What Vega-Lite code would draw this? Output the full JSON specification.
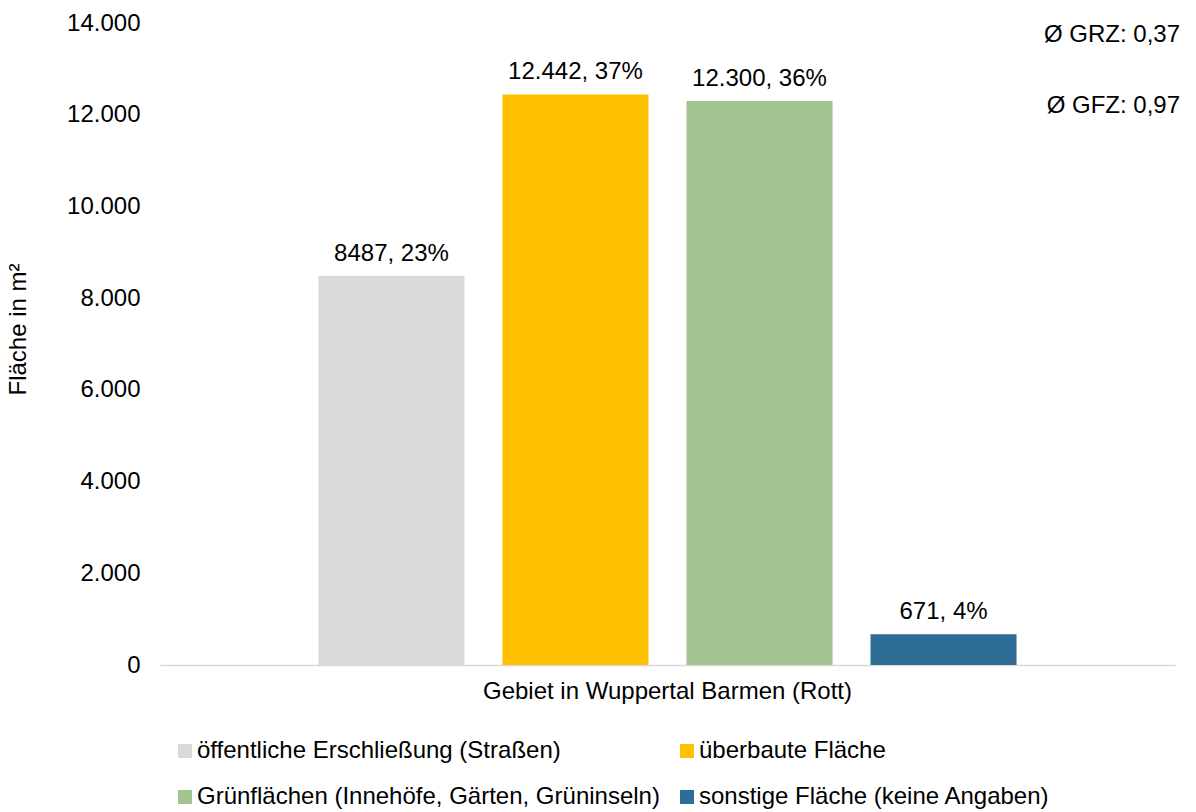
{
  "$schema": "https://vega.github.io/schema/vega-lite/v6.json",
  "width": 1015,
  "height": 642,
  "autosize": {"type": "none"},
  "padding": {"left": 160, "top": 23, "right": 21, "bottom": 147},
  "background": "white",
  "config": {
    "view": {"stroke": null},
    "font": "Liberation Sans"
  },
  "title": {
    "text": "Ø GRZ: 0,37",
    "subtitle": "Ø GFZ: 0,97",
    "anchor": "end",
    "frame": "group",
    "orient": "top",
    "offset": -107,
    "dx": 5,
    "font": "Liberation Sans",
    "subtitleFont": "Liberation Sans",
    "fontSize": 24,
    "subtitleFontSize": 24,
    "fontWeight": "normal",
    "color": "#000000",
    "subtitleColor": "#000000",
    "subtitlePadding": 47
  },
  "data": {
    "values": [
      {"gebiet": "Gebiet in Wuppertal Barmen (Rott)", "kategorie": "öffentliche Erschließung (Straßen)", "flaeche": 8487, "label": "8487, 23%"},
      {"gebiet": "Gebiet in Wuppertal Barmen (Rott)", "kategorie": "überbaute Fläche", "flaeche": 12442, "label": "12.442, 37%"},
      {"gebiet": "Gebiet in Wuppertal Barmen (Rott)", "kategorie": "Grünflächen (Innehöfe, Gärten, Grüninseln)", "flaeche": 12300, "label": "12.300, 36%"},
      {"gebiet": "Gebiet in Wuppertal Barmen (Rott)", "kategorie": "sonstige Fläche (keine Angaben)", "flaeche": 671, "label": "671, 4%"}
    ]
  },
  "encoding": {
    "x": {
      "field": "gebiet",
      "type": "nominal",
      "scale": {"paddingInner": 0, "paddingOuter": 0},
      "axis": {
        "title": null,
        "labelAngle": 0,
        "ticks": false,
        "domainColor": "#D9D9D9",
        "domainWidth": 1.5,
        "labelFont": "Liberation Sans",
        "labelFontSize": 24,
        "labelColor": "#000000",
        "labelPadding": 14,
        "labelLimit": 0
      }
    },
    "xOffset": {
      "field": "kategorie",
      "type": "nominal",
      "sort": null,
      "scale": {"paddingInner": 0.2065, "paddingOuter": 0.861}
    },
    "y": {
      "field": "flaeche",
      "type": "quantitative",
      "scale": {"domain": [0, 14000], "nice": false},
      "axis": {
        "domain": false,
        "ticks": false,
        "grid": false,
        "values": [0, 2000, 4000, 6000, 8000, 10000, 12000, 14000],
        "labelExpr": "replace(format(datum.value, ',d'), ',', '.')",
        "labelPadding": 20,
        "labelFont": "Liberation Sans",
        "labelFontSize": 24,
        "labelColor": "#000000",
        "title": "Fläche in m²",
        "titleFont": "Liberation Sans",
        "titleFontSize": 24,
        "titleFontWeight": "normal",
        "titleColor": "#000000",
        "titleAngle": -90,
        "titleAlign": "center",
        "titleBaseline": "alphabetic",
        "titleX": -135,
        "titleY": 306
      }
    }
  },
  "layer": [
    {
      "mark": {"type": "bar"},
      "encoding": {
        "color": {
          "field": "kategorie",
          "type": "nominal",
          "scale": {
            "domain": ["öffentliche Erschließung (Straßen)", "Grünflächen (Innehöfe, Gärten, Grüninseln)", "überbaute Fläche", "sonstige Fläche (keine Angaben)"],
            "range": ["#D9D9D9", "#A1C490", "#FFC000", "#2E6E96"]
          },
          "legend": {
            "orient": "none",
            "legendX": 13,
            "legendY": 716,
            "columns": 2,
            "title": null,
            "symbolType": "square",
            "symbolSize": 196,
            "symbolStrokeWidth": 0,
            "labelFont": "Liberation Sans",
            "labelFontSize": 24,
            "labelColor": "#000000",
            "labelLimit": 0,
            "labelOffset": 0,
            "columnPadding": 15,
            "rowPadding": 22
          }
        }
      }
    },
    {
      "mark": {"type": "text", "dy": -15, "baseline": "alphabetic", "fontSize": 24, "font": "Liberation Sans", "color": "#000000"},
      "encoding": {"text": {"field": "label"}}
    }
  ]
}
